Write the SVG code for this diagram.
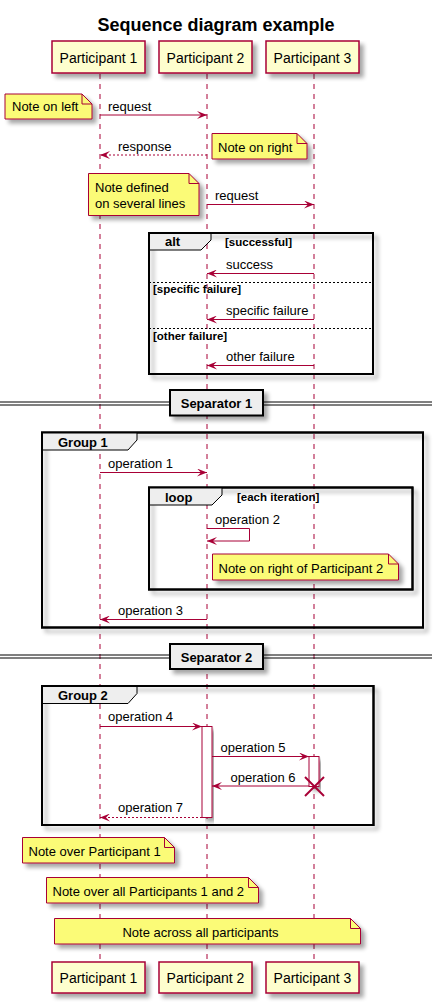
<svg xmlns="http://www.w3.org/2000/svg" width="438" height="1006" viewBox="0 0 438 1006">
<defs>
<filter id="sh" x="-10%" y="-10%" width="130%" height="160%">
<feGaussianBlur in="SourceAlpha" stdDeviation="2"/>
<feOffset dx="4" dy="4" result="b"/>
<feComponentTransfer><feFuncA type="linear" slope="0.35"/></feComponentTransfer>
<feMerge><feMergeNode/><feMergeNode in="SourceGraphic"/></feMerge>
</filter>
<marker id="ah" viewBox="0 0 10 8" refX="10" refY="4" markerWidth="10" markerHeight="8" markerUnits="userSpaceOnUse" orient="auto">
<polygon points="0,0 10,4 0,8 4,4" fill="#A80036"/>
</marker>
</defs>
<style>
text{font-family:"Liberation Sans",Arial,sans-serif;fill:#000}
.t{font-size:18px;font-weight:bold}
.p{font-size:14px}
.m{font-size:13px}
.b{font-size:13px;font-weight:bold}
.g{font-size:11.5px;font-weight:bold}
.part{fill:#FEFECE;stroke:#A80036;stroke-width:1.5}
.note{fill:#FBFB77;stroke:#A80036;stroke-width:1}
.fold{fill:none;stroke:#A80036;stroke-width:1}
.life{stroke:#A80036;stroke-width:1;stroke-dasharray:5,5;fill:none}
.msg{stroke:#A80036;stroke-width:1;fill:none}
.dash{stroke-dasharray:2,2}
.frame{fill:none;stroke:#000;stroke-width:2}
.tab{fill:#EEEEEE;stroke:#000;stroke-width:1}
.div{stroke:#000;stroke-width:1;stroke-dasharray:2,2}
.act{fill:#FFFFFF;stroke:#A80036;stroke-width:1}
</style>
<rect width="438" height="1006" fill="#FFFFFF"/>
<text class="t" x="216" y="31" text-anchor="middle">Sequence diagram example</text>

<g id="lifelines">
<line class="life" x1="100" y1="74" x2="100" y2="962"/>
<line class="life" x1="207" y1="74" x2="207" y2="962"/>
<line class="life" x1="314" y1="74" x2="314" y2="962"/>
</g>

<g id="participant1">
<rect class="part" x="52" y="41" width="93" height="32" filter="url(#sh)"/>
<text class="p" x="98.5" y="63" text-anchor="middle">Participant 1</text>
<rect class="part" x="52" y="962" width="93" height="31" filter="url(#sh)"/>
<text class="p" x="98.5" y="983" text-anchor="middle">Participant 1</text>
</g>
<g id="participant2">
<rect class="part" x="159" y="41" width="93" height="32" filter="url(#sh)"/>
<text class="p" x="205.5" y="63" text-anchor="middle">Participant 2</text>
<rect class="part" x="159" y="962" width="93" height="31" filter="url(#sh)"/>
<text class="p" x="205.5" y="983" text-anchor="middle">Participant 2</text>
</g>
<g id="participant3">
<rect class="part" x="266" y="41" width="93" height="32" filter="url(#sh)"/>
<text class="p" x="312.5" y="63" text-anchor="middle">Participant 3</text>
<rect class="part" x="266" y="962" width="93" height="31" filter="url(#sh)"/>
<text class="p" x="312.5" y="983" text-anchor="middle">Participant 3</text>
</g>

<g id="frames">
<g id="alt">
<rect class="frame" x="149" y="233" width="224" height="141" filter="url(#sh)" fill="none"/>
<polygon class="tab" points="149,233 211,233 211,240 201,250 149,250"/>
<rect class="frame" x="149" y="233" width="224" height="141"/>
<text class="b" x="165" y="246">alt</text>
<text class="g" x="225" y="245.5">[successful]</text>
<line class="div" x1="149" y1="282.5" x2="373" y2="282.5"/>
<text class="g" x="153" y="293">[specific failure]</text>
<line class="div" x1="149" y1="328.5" x2="373" y2="328.5"/>
<text class="g" x="153" y="340">[other failure]</text>
</g>
<g id="separator1">
<line x1="0" y1="402" x2="432" y2="402" stroke="#000" stroke-width="1"/>
<line x1="0" y1="405" x2="432" y2="405" stroke="#000" stroke-width="1"/>
<rect x="170" y="390" width="93" height="25.5" fill="#EEEEEE" stroke="#000" stroke-width="2" filter="url(#sh)"/>
<text class="b" x="216.5" y="407.5" text-anchor="middle">Separator 1</text>
</g>
<g id="group1">
<rect class="frame" x="42" y="432.5" width="381" height="195" filter="url(#sh)"/>
<polygon class="tab" points="42,432.5 137,432.5 137,440 128,450 42,450"/>
<rect class="frame" x="42" y="432.5" width="381" height="195"/>
<text class="b" x="58" y="447">Group 1</text>
</g>
<g id="loop">
<rect class="frame" x="149" y="487.5" width="263.5" height="102" filter="url(#sh)"/>
<polygon class="tab" points="149,487.5 222,487.5 222,495 212,505 149,505"/>
<rect class="frame" x="149" y="487.5" width="263.5" height="102"/>
<text class="b" x="165" y="502">loop</text>
<text class="g" x="237" y="500.5">[each iteration]</text>
</g>
<g id="separator2">
<line x1="0" y1="655" x2="432" y2="655" stroke="#000" stroke-width="1"/>
<line x1="0" y1="658" x2="432" y2="658" stroke="#000" stroke-width="1"/>
<rect x="170" y="644" width="93" height="25" fill="#EEEEEE" stroke="#000" stroke-width="2" filter="url(#sh)"/>
<text class="b" x="216.5" y="661.5" text-anchor="middle">Separator 2</text>
</g>
<g id="group2">
<rect class="frame" x="42" y="686" width="331.5" height="139" filter="url(#sh)"/>
<polygon class="tab" points="42,686 137,686 137,693.5 128,703.5 42,703.5"/>
<rect class="frame" x="42" y="686" width="331.5" height="139"/>
<text class="b" x="58" y="699.5">Group 2</text>
</g>
</g>

<g id="activations">
<rect class="act" x="202" y="726.5" width="10" height="91" filter="url(#sh)"/>
<rect class="act" x="309" y="756.5" width="10" height="30" filter="url(#sh)"/>
</g>

<g id="connectors">
<line class="msg" x1="100" y1="115" x2="207" y2="115" marker-end="url(#ah)"/>
<text class="m" x="108" y="110.5">request</text>
<line class="msg dash" x1="207" y1="155" x2="100" y2="155" marker-end="url(#ah)"/>
<text class="m" x="118" y="150.5">response</text>
<line class="msg" x1="207" y1="204.5" x2="314" y2="204.5" marker-end="url(#ah)"/>
<text class="m" x="215" y="199.5">request</text>
<line class="msg" x1="314" y1="273.5" x2="207" y2="273.5" marker-end="url(#ah)"/>
<text class="m" x="226" y="268.5">success</text>
<line class="msg" x1="314" y1="319.5" x2="207" y2="319.5" marker-end="url(#ah)"/>
<text class="m" x="226" y="314.5">specific failure</text>
<line class="msg" x1="314" y1="365.5" x2="207" y2="365.5" marker-end="url(#ah)"/>
<text class="m" x="226" y="360.5">other failure</text>
<line class="msg" x1="100" y1="472.5" x2="207" y2="472.5" marker-end="url(#ah)"/>
<text class="m" x="108" y="467.5">operation 1</text>
<polyline class="msg" points="207,528.5 249.5,528.5 249.5,541 207,541" marker-end="url(#ah)"/>
<text class="m" x="215" y="523.5">operation 2</text>
<line class="msg" x1="207" y1="619.5" x2="100" y2="619.5" marker-end="url(#ah)"/>
<text class="m" x="118" y="614.5">operation 3</text>
<line class="msg" x1="100" y1="726.5" x2="202" y2="726.5" marker-end="url(#ah)"/>
<text class="m" x="108" y="721">operation 4</text>
<line class="msg" x1="212" y1="756.5" x2="309" y2="756.5" marker-end="url(#ah)"/>
<text class="m" x="220.5" y="752">operation 5</text>
<line class="msg" x1="309" y1="786" x2="212" y2="786" marker-end="url(#ah)"/>
<text class="m" x="230.5" y="782">operation 6</text>
<line class="msg dash" x1="202" y1="817.5" x2="100" y2="817.5" marker-end="url(#ah)"/>
<text class="m" x="118" y="812">operation 7</text>
<g id="destroy" stroke="#A80036" stroke-width="2">
<line x1="305" y1="777" x2="324" y2="796"/>
<line x1="324" y1="777" x2="305" y2="796"/>
</g>
</g>

<g id="note-left">
<path class="note" d="M5,94 L82,94 L92,104 L92,119 L5,119 Z" filter="url(#sh)"/>
<path class="fold" d="M82,94 L82,104 L92,104"/>
<text class="m" x="12" y="111">Note on left</text>
</g>
<g id="note-right">
<path class="note" d="M212,133.5 L297,133.5 L307,143.5 L307,159 L212,159 Z" filter="url(#sh)"/>
<path class="fold" d="M297,133.5 L297,143.5 L307,143.5"/>
<text class="m" x="218" y="152">Note on right</text>
</g>
<g id="note-multiline">
<path class="note" d="M88.5,173.5 L189,173.5 L199,183.5 L199,215.5 L88.5,215.5 Z" filter="url(#sh)"/>
<path class="fold" d="M189,173.5 L189,183.5 L199,183.5"/>
<text class="m" x="95" y="191.5">Note defined</text>
<text class="m" x="95" y="208">on several lines</text>
</g>
<g id="note-right-p2">
<path class="note" d="M212.5,554 L388.5,554 L398.5,564 L398.5,580 L212.5,580 Z" filter="url(#sh)"/>
<path class="fold" d="M388.5,554 L388.5,564 L398.5,564"/>
<text class="m" x="218.5" y="572.5">Note on right of Participant 2</text>
</g>
<g id="note-over-p1">
<path class="note" d="M22.5,837.5 L164.5,837.5 L174.5,847.5 L174.5,863 L22.5,863 Z" filter="url(#sh)"/>
<path class="fold" d="M164.5,837.5 L164.5,847.5 L174.5,847.5"/>
<text class="m" x="28.5" y="856">Note over Participant 1</text>
</g>
<g id="note-over-p1p2">
<path class="note" d="M46.5,877.5 L248.5,877.5 L258.5,887.5 L258.5,903 L46.5,903 Z" filter="url(#sh)"/>
<path class="fold" d="M248.5,877.5 L248.5,887.5 L258.5,887.5"/>
<text class="m" x="52.5" y="896">Note over all Participants 1 and 2</text>
</g>
<g id="note-across">
<path class="note" d="M54.5,918.5 L350.5,918.5 L360.5,928.5 L360.5,944 L54.5,944 Z" filter="url(#sh)"/>
<path class="fold" d="M350.5,918.5 L350.5,928.5 L360.5,928.5"/>
<text class="m" x="200.5" y="936.5" text-anchor="middle">Note across all participants</text>
</g>
</svg>
